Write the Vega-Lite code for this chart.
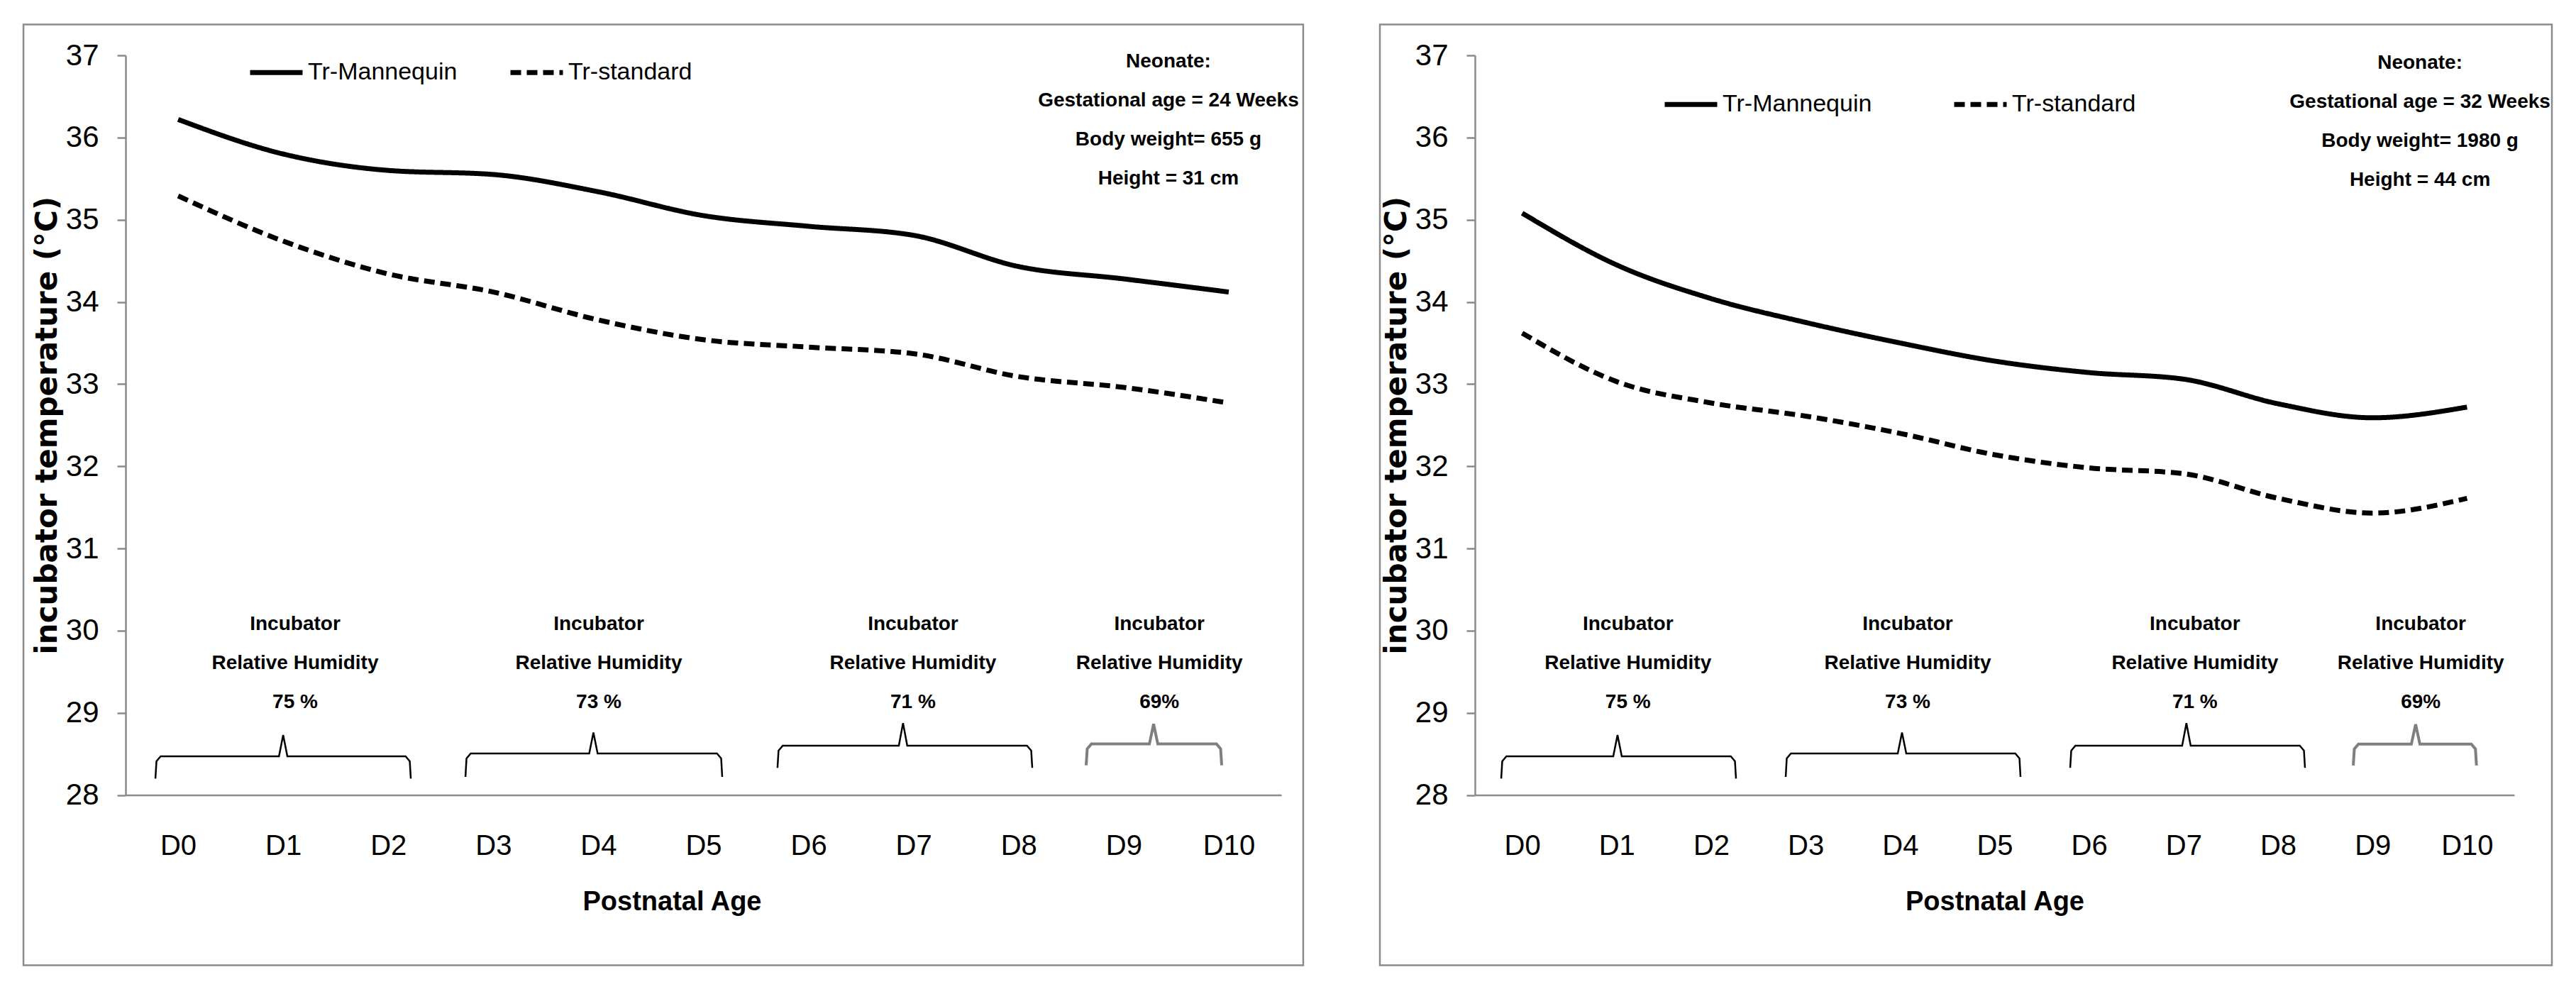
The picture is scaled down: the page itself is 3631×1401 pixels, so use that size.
{
  "$schema": "https://vega.github.io/schema/vega-lite/v6.json",
  "background": "white",
  "padding": {"left": 31, "top": 33, "right": 0, "bottom": 0},
  "spacing": 104,
  "config": {
    "view": {"stroke": null},
    "font": "Liberation Sans",
    "axisX": {
      "ticks": false,
      "grid": false,
      "domainColor": "#8a8a8a",
      "domainWidth": 2.5,
      "labelFont": "Liberation Sans",
      "labelFontSize": 40,
      "labelColor": "black",
      "labelPadding": 52,
      "labelFlush": false,
      "labelOverlap": false,
      "titleFont": "Liberation Sans",
      "titleFontSize": 38,
      "titleFontWeight": "bold",
      "titleColor": "black",
      "titlePadding": 40
    },
    "axisY": {
      "grid": false,
      "ticks": true,
      "tickSize": 12,
      "tickWidth": 2.5,
      "tickColor": "#8a8a8a",
      "domainColor": "#8a8a8a",
      "domainWidth": 2.5,
      "labelFont": "Liberation Sans",
      "labelFontSize": 42,
      "labelColor": "black",
      "labelPadding": 26,
      "labelOverlap": false,
      "titleFont": "DejaVu Sans",
      "titleFontSize": 42,
      "titleFontWeight": "bold",
      "titleColor": "black",
      "titlePadding": 4
    },
    "legend": {
      "orient": "none",
      "direction": "horizontal",
      "columns": 2,
      "symbolType": "stroke",
      "symbolStrokeWidth": 7,
      "symbolSize": 5476,
      "symbolStrokeColor": "black",
      "labelFont": "Liberation Sans",
      "labelFontSize": 34,
      "labelColor": "black",
      "labelOffset": 4,
      "labelLimit": 1000,
      "padding": 0,
      "title": null
    }
  },
  "datasets": {
    "lineL": [
      {"day": 0, "series": "Tr-Mannequin", "temp": 36.22},
      {"day": 1, "series": "Tr-Mannequin", "temp": 35.80},
      {"day": 2, "series": "Tr-Mannequin", "temp": 35.60},
      {"day": 3, "series": "Tr-Mannequin", "temp": 35.55},
      {"day": 4, "series": "Tr-Mannequin", "temp": 35.34},
      {"day": 5, "series": "Tr-Mannequin", "temp": 35.05},
      {"day": 6, "series": "Tr-Mannequin", "temp": 34.92},
      {"day": 7, "series": "Tr-Mannequin", "temp": 34.81},
      {"day": 8, "series": "Tr-Mannequin", "temp": 34.43},
      {"day": 9, "series": "Tr-Mannequin", "temp": 34.28},
      {"day": 10, "series": "Tr-Mannequin", "temp": 34.12},
      {"day": 0, "series": "Tr-standard", "temp": 35.29},
      {"day": 1, "series": "Tr-standard", "temp": 34.74},
      {"day": 2, "series": "Tr-standard", "temp": 34.34},
      {"day": 3, "series": "Tr-standard", "temp": 34.12},
      {"day": 4, "series": "Tr-standard", "temp": 33.78},
      {"day": 5, "series": "Tr-standard", "temp": 33.54},
      {"day": 6, "series": "Tr-standard", "temp": 33.45},
      {"day": 7, "series": "Tr-standard", "temp": 33.37},
      {"day": 8, "series": "Tr-standard", "temp": 33.09},
      {"day": 9, "series": "Tr-standard", "temp": 32.96},
      {"day": 10, "series": "Tr-standard", "temp": 32.77}
    ],
    "lineR": [
      {"day": 0, "series": "Tr-Mannequin", "temp": 35.08},
      {"day": 1, "series": "Tr-Mannequin", "temp": 34.45},
      {"day": 2, "series": "Tr-Mannequin", "temp": 34.04},
      {"day": 3, "series": "Tr-Mannequin", "temp": 33.75},
      {"day": 4, "series": "Tr-Mannequin", "temp": 33.50},
      {"day": 5, "series": "Tr-Mannequin", "temp": 33.28},
      {"day": 6, "series": "Tr-Mannequin", "temp": 33.14},
      {"day": 7, "series": "Tr-Mannequin", "temp": 33.06},
      {"day": 8, "series": "Tr-Mannequin", "temp": 32.76},
      {"day": 9, "series": "Tr-Mannequin", "temp": 32.59},
      {"day": 10, "series": "Tr-Mannequin", "temp": 32.72},
      {"day": 0, "series": "Tr-standard", "temp": 33.62},
      {"day": 1, "series": "Tr-standard", "temp": 33.03},
      {"day": 2, "series": "Tr-standard", "temp": 32.77},
      {"day": 3, "series": "Tr-standard", "temp": 32.61},
      {"day": 4, "series": "Tr-standard", "temp": 32.40},
      {"day": 5, "series": "Tr-standard", "temp": 32.14},
      {"day": 6, "series": "Tr-standard", "temp": 31.98},
      {"day": 7, "series": "Tr-standard", "temp": 31.91},
      {"day": 8, "series": "Tr-standard", "temp": 31.61},
      {"day": 9, "series": "Tr-standard", "temp": 31.43},
      {"day": 10, "series": "Tr-standard", "temp": 31.61}
    ],
    "braceL": [
      {"group": "75 %", "order": 1, "x": -0.216, "y": 28.2},
      {"group": "75 %", "order": 2, "x": -0.206, "y": 28.41},
      {"group": "75 %", "order": 3, "x": -0.166, "y": 28.47},
      {"group": "75 %", "order": 4, "x": 0.96, "y": 28.47},
      {"group": "75 %", "order": 5, "x": 1.0, "y": 28.73},
      {"group": "75 %", "order": 6, "x": 1.04, "y": 28.47},
      {"group": "75 %", "order": 7, "x": 2.165, "y": 28.47},
      {"group": "75 %", "order": 8, "x": 2.205, "y": 28.41},
      {"group": "75 %", "order": 9, "x": 2.215, "y": 28.2},
      {"group": "73 %", "order": 1, "x": 2.735, "y": 28.22},
      {"group": "73 %", "order": 2, "x": 2.745, "y": 28.445},
      {"group": "73 %", "order": 3, "x": 2.785, "y": 28.505},
      {"group": "73 %", "order": 4, "x": 3.913, "y": 28.505},
      {"group": "73 %", "order": 5, "x": 3.953, "y": 28.76},
      {"group": "73 %", "order": 6, "x": 3.993, "y": 28.505},
      {"group": "73 %", "order": 7, "x": 5.129, "y": 28.505},
      {"group": "73 %", "order": 8, "x": 5.169, "y": 28.445},
      {"group": "73 %", "order": 9, "x": 5.179, "y": 28.22},
      {"group": "71 %", "order": 1, "x": 5.705, "y": 28.33},
      {"group": "71 %", "order": 2, "x": 5.715, "y": 28.54},
      {"group": "71 %", "order": 3, "x": 5.755, "y": 28.6},
      {"group": "71 %", "order": 4, "x": 6.86, "y": 28.6},
      {"group": "71 %", "order": 5, "x": 6.9, "y": 28.875},
      {"group": "71 %", "order": 6, "x": 6.94, "y": 28.6},
      {"group": "71 %", "order": 7, "x": 8.08, "y": 28.6},
      {"group": "71 %", "order": 8, "x": 8.12, "y": 28.54},
      {"group": "71 %", "order": 9, "x": 8.13, "y": 28.33},
      {"group": "69%", "order": 1, "x": 8.643, "y": 28.362},
      {"group": "69%", "order": 2, "x": 8.653, "y": 28.561},
      {"group": "69%", "order": 3, "x": 8.693, "y": 28.621},
      {"group": "69%", "order": 4, "x": 9.245, "y": 28.621},
      {"group": "69%", "order": 5, "x": 9.285, "y": 28.863},
      {"group": "69%", "order": 6, "x": 9.325, "y": 28.621},
      {"group": "69%", "order": 7, "x": 9.883, "y": 28.621},
      {"group": "69%", "order": 8, "x": 9.923, "y": 28.561},
      {"group": "69%", "order": 9, "x": 9.933, "y": 28.362}
    ],
    "braceR": [
      {"group": "75 %", "order": 1, "x": -0.222, "y": 28.2},
      {"group": "75 %", "order": 2, "x": -0.211, "y": 28.41},
      {"group": "75 %", "order": 3, "x": -0.167, "y": 28.47},
      {"group": "75 %", "order": 4, "x": 0.964, "y": 28.47},
      {"group": "75 %", "order": 5, "x": 1.009, "y": 28.73},
      {"group": "75 %", "order": 6, "x": 1.054, "y": 28.47},
      {"group": "75 %", "order": 7, "x": 2.208, "y": 28.47},
      {"group": "75 %", "order": 8, "x": 2.252, "y": 28.41},
      {"group": "75 %", "order": 9, "x": 2.263, "y": 28.2},
      {"group": "73 %", "order": 1, "x": 2.789, "y": 28.22},
      {"group": "73 %", "order": 2, "x": 2.8, "y": 28.445},
      {"group": "73 %", "order": 3, "x": 2.844, "y": 28.505},
      {"group": "73 %", "order": 4, "x": 3.975, "y": 28.505},
      {"group": "73 %", "order": 5, "x": 4.02, "y": 28.76},
      {"group": "73 %", "order": 6, "x": 4.065, "y": 28.505},
      {"group": "73 %", "order": 7, "x": 5.219, "y": 28.505},
      {"group": "73 %", "order": 8, "x": 5.263, "y": 28.445},
      {"group": "73 %", "order": 9, "x": 5.274, "y": 28.22},
      {"group": "71 %", "order": 1, "x": 5.8, "y": 28.33},
      {"group": "71 %", "order": 2, "x": 5.811, "y": 28.54},
      {"group": "71 %", "order": 3, "x": 5.855, "y": 28.6},
      {"group": "71 %", "order": 4, "x": 6.985, "y": 28.6},
      {"group": "71 %", "order": 5, "x": 7.03, "y": 28.875},
      {"group": "71 %", "order": 6, "x": 7.075, "y": 28.6},
      {"group": "71 %", "order": 7, "x": 8.23, "y": 28.6},
      {"group": "71 %", "order": 8, "x": 8.274, "y": 28.54},
      {"group": "71 %", "order": 9, "x": 8.285, "y": 28.33},
      {"group": "69%", "order": 1, "x": 8.796, "y": 28.36},
      {"group": "69%", "order": 2, "x": 8.807, "y": 28.56},
      {"group": "69%", "order": 3, "x": 8.851, "y": 28.62},
      {"group": "69%", "order": 4, "x": 9.411, "y": 28.62},
      {"group": "69%", "order": 5, "x": 9.456, "y": 28.86},
      {"group": "69%", "order": 6, "x": 9.501, "y": 28.62},
      {"group": "69%", "order": 7, "x": 10.045, "y": 28.62},
      {"group": "69%", "order": 8, "x": 10.089, "y": 28.56},
      {"group": "69%", "order": 9, "x": 10.1, "y": 28.36}
    ],
    "noteL": [
      {"x": 1.114, "y": 30.201, "label": "Incubator\nRelative Humidity\n75 %"},
      {"x": 4.004, "y": 30.201, "label": "Incubator\nRelative Humidity\n73 %"},
      {"x": 6.995, "y": 30.201, "label": "Incubator\nRelative Humidity\n71 %"},
      {"x": 9.34, "y": 30.201, "label": "Incubator\nRelative Humidity\n69%"},
      {"x": 9.426, "y": 37.039, "label": "Neonate:\nGestational age = 24 Weeks\nBody weight= 655 g\nHeight = 31 cm"}
    ],
    "noteR": [
      {"x": 1.12, "y": 30.201, "label": "Incubator\nRelative Humidity\n75 %"},
      {"x": 4.08, "y": 30.201, "label": "Incubator\nRelative Humidity\n73 %"},
      {"x": 7.12, "y": 30.201, "label": "Incubator\nRelative Humidity\n71 %"},
      {"x": 9.51, "y": 30.201, "label": "Incubator\nRelative Humidity\n69%"},
      {"x": 9.502, "y": 37.03, "label": "Neonate:\nGestational age = 32 Weeks\nBody weight= 1980 g\nHeight = 44 cm"}
    ]
  },
  "resolve": {"scale": {"x": "independent", "y": "independent", "strokeDash": "independent"}, "legend": {"strokeDash": "independent"}},
  "hconcat": [
    {
      "width": 1629,
      "height": 1042.5,
      "layer": [
        {
          "data": {"values": [{}]},
          "mark": {"type": "rect", "filled": false, "stroke": "#8b8b8b", "strokeWidth": 2.5},
          "encoding": {
            "x": {"datum": -1.472, "type": "quantitative"},
            "x2": {"datum": 10.709},
            "y": {"datum": 37.376, "type": "quantitative"},
            "y2": {"datum": 25.928}
          }
        },
        {
          "data": {"name": "braceL"},
          "transform": [{"filter": "datum.group !== '69%'"}],
          "mark": {"type": "line", "stroke": "black", "strokeWidth": 2.5},
          "encoding": {
            "x": {"field": "x", "type": "quantitative"},
            "y": {"field": "y", "type": "quantitative"},
            "detail": {"field": "group"},
            "order": {"field": "order"}
          }
        },
        {
          "data": {"name": "braceL"},
          "transform": [{"filter": "datum.group === '69%'"}],
          "mark": {"type": "line", "stroke": "#7f7f7f", "strokeWidth": 4},
          "encoding": {
            "x": {"field": "x", "type": "quantitative"},
            "y": {"field": "y", "type": "quantitative"},
            "detail": {"field": "group"},
            "order": {"field": "order"}
          }
        },
        {
          "data": {"name": "noteL"},
          "mark": {"type": "text", "font": "Liberation Sans", "fontWeight": "bold", "fontSize": 28, "align": "center", "baseline": "top", "lineBreak": "\n", "lineHeight": 55, "color": "black"},
          "encoding": {
            "x": {"field": "x", "type": "quantitative"},
            "y": {"field": "y", "type": "quantitative"},
            "text": {"field": "label"}
          }
        },
        {
          "data": {"name": "lineL"},
          "mark": {"type": "line", "stroke": "black", "strokeWidth": 7, "interpolate": "monotone"},
          "encoding": {
            "x": {"field": "day", "type": "quantitative", "scale": {"domain": [-0.5, 10.5], "nice": false, "zero": false},
                  "axis": {"title": "Postnatal Age", "titleX": 770, "values": [0, 1, 2, 3, 4, 5, 6, 7, 8, 9, 10], "labelExpr": "'D' + datum.value"}},
            "y": {"field": "temp", "type": "quantitative", "scale": {"domain": [28, 37], "nice": false, "zero": false},
                  "axis": {"title": "incubator temperature (°C)", "values": [28, 29, 30, 31, 32, 33, 34, 35, 36, 37], "format": "d"}},
            "strokeDash": {
              "field": "series", "type": "nominal",
              "scale": {"domain": ["Tr-Mannequin", "Tr-standard"], "range": [[1, 0], [15, 8]]},
              "legend": {"legendX": 172, "legendY": -16.5, "columnPadding": 60}
            }
          }
        }
      ]
    },
    {
      "width": 1465,
      "height": 1042.5,
      "layer": [
        {
          "data": {"values": [{}]},
          "mark": {"type": "rect", "filled": false, "stroke": "#8b8b8b", "strokeWidth": 2.5},
          "encoding": {
            "x": {"datum": -1.506, "type": "quantitative"},
            "x2": {"datum": 10.898},
            "y": {"datum": 37.376, "type": "quantitative"},
            "y2": {"datum": 25.928}
          }
        },
        {
          "data": {"name": "braceR"},
          "transform": [{"filter": "datum.group !== '69%'"}],
          "mark": {"type": "line", "stroke": "black", "strokeWidth": 2.5},
          "encoding": {
            "x": {"field": "x", "type": "quantitative"},
            "y": {"field": "y", "type": "quantitative"},
            "detail": {"field": "group"},
            "order": {"field": "order"}
          }
        },
        {
          "data": {"name": "braceR"},
          "transform": [{"filter": "datum.group === '69%'"}],
          "mark": {"type": "line", "stroke": "#7f7f7f", "strokeWidth": 4},
          "encoding": {
            "x": {"field": "x", "type": "quantitative"},
            "y": {"field": "y", "type": "quantitative"},
            "detail": {"field": "group"},
            "order": {"field": "order"}
          }
        },
        {
          "data": {"name": "noteR"},
          "mark": {"type": "text", "font": "Liberation Sans", "fontWeight": "bold", "fontSize": 28, "align": "center", "baseline": "top", "lineBreak": "\n", "lineHeight": 55, "color": "black"},
          "encoding": {
            "x": {"field": "x", "type": "quantitative"},
            "y": {"field": "y", "type": "quantitative"},
            "text": {"field": "label"}
          }
        },
        {
          "data": {"name": "lineR"},
          "mark": {"type": "line", "stroke": "black", "strokeWidth": 7, "interpolate": "monotone"},
          "encoding": {
            "x": {"field": "day", "type": "quantitative", "scale": {"domain": [-0.5, 10.5], "nice": false, "zero": false},
                  "axis": {"title": "Postnatal Age", "values": [0, 1, 2, 3, 4, 5, 6, 7, 8, 9, 10], "labelExpr": "'D' + datum.value"}},
            "y": {"field": "temp", "type": "quantitative", "scale": {"domain": [28, 37], "nice": false, "zero": false},
                  "axis": {"title": "incubator temperature (°C)", "values": [28, 29, 30, 31, 32, 33, 34, 35, 36, 37], "format": "d"}},
            "strokeDash": {
              "field": "series", "type": "nominal",
              "scale": {"domain": ["Tr-Mannequin", "Tr-standard"], "range": [[1, 0], [15, 8]]},
              "legend": {"legendX": 264, "legendY": 28.5, "columnPadding": 101}
            }
          }
        }
      ]
    }
  ]
}
